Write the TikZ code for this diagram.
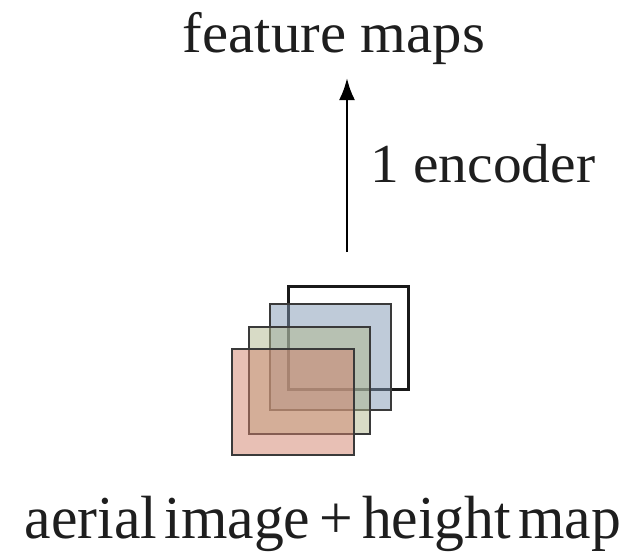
\documentclass[tikz,border=0pt]{standalone}
\usepackage[T1]{fontenc}
\IfFileExists{pplr8t.tfm}{\renewcommand{\rmdefault}{ppl}}{\usepackage{fontspec}\setmainfont{Liberation Serif}}
\usetikzlibrary{arrows.meta}
\definecolor{layerred}{HTML}{D1816B}
\definecolor{layergreen}{HTML}{B1B78D}
\definecolor{layerblue}{HTML}{7F97B3}
\definecolor{edgegray}{HTML}{3A3A3A}
\definecolor{inkgray}{HTML}{1E1E1E}
% fit a label to a given width, keeping its height
\newcommand{\fitwidth}[2]{\resizebox{#1}{\height}{#2}}
\tikzset{
  label text/.style={inner sep=0pt, text=inkgray},
  layer/.style={draw=edgegray, line width=1.6pt, fill opacity=0.5},
  flow/.style={line width=2.7pt, -{Latex[length=22pt,width=16pt]}}
}
\begin{document}
\begin{tikzpicture}[x=1pt, y=-1pt]
  \useasboundingbox (0,0) rectangle (623,552);
  % stack of input layers, back to front
  \draw[line width=3pt, draw=black!90] (288,286) rectangle (408,389);
  \draw[layer, fill=layerblue]  (270,304) rectangle (391,410);
  \draw[layer, fill=layergreen] (249,327) rectangle (370,434);
  \draw[layer, fill=layerred]   (232,349) rectangle (354,455);
  \coordinate (stack) at (347,252);
  % labels
  \node[label text, anchor=base] (fm) at (334,52)
    {\fitwidth{302pt}{\fontsize{57}{62}\selectfont feature maps}};
  \node[label text, anchor=base west] (enc) at (370,182)
    {\fitwidth{225pt}{\fontsize{55}{60}\selectfont 1 encoder}};
  \node[label text, anchor=base] (inp) at (323,538.5)
    {\fitwidth{596pt}{\fontsize{61}{66}\selectfont aerial\hspace{0.12em}image\hspace{0.15em}+\hspace{0.15em}height\hspace{0.12em}map}};
  % encoder arrow
  \coordinate (top) at (347,78);
  \draw[flow] (stack) -- (top);
\end{tikzpicture}
\end{document}
